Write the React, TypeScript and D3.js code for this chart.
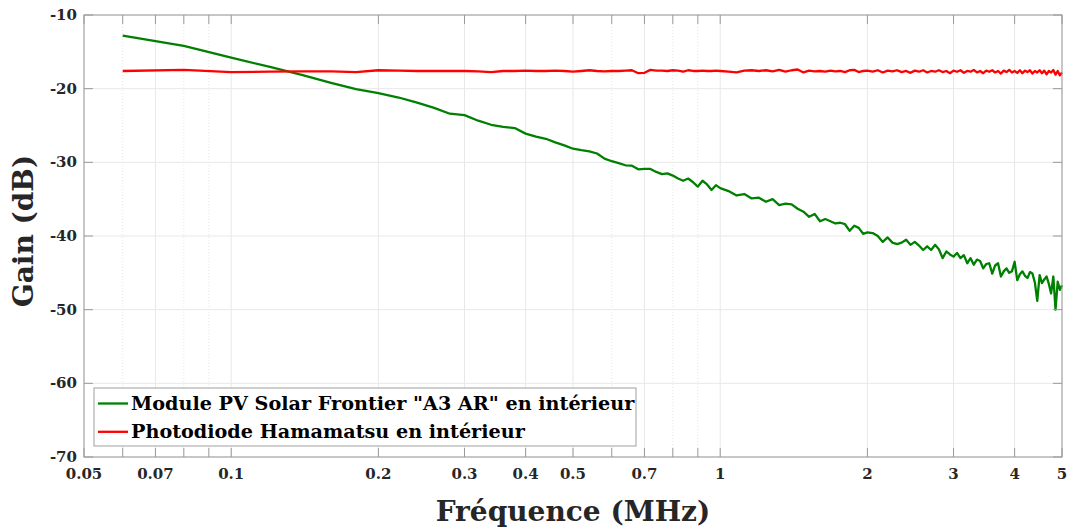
import React from 'react';
import * as d3 from 'd3';

// frequency points (MHz)
const freq: number[] = [
  0.06, 0.08, 0.1, 0.12, 0.14, 0.16, 0.18, 0.2, 0.22, 0.24, 0.26, 0.28, 0.3, 0.32, 0.34, 0.36,
  0.38, 0.4, 0.42, 0.44, 0.46, 0.48, 0.5, 0.52, 0.54, 0.56, 0.58, 0.6, 0.62, 0.64, 0.66, 0.68,
  0.7, 0.72, 0.74, 0.76, 0.78, 0.8, 0.82, 0.84, 0.86, 0.88, 0.9, 0.92, 0.94, 0.96, 0.98, 1.0,
  1.04, 1.08, 1.12, 1.16, 1.2, 1.24, 1.28, 1.32, 1.36, 1.4, 1.44, 1.48, 1.52, 1.56, 1.6, 1.64,
  1.68, 1.72, 1.76, 1.8, 1.84, 1.88, 1.92, 1.96, 2.0,
  2.05, 2.1, 2.15, 2.2, 2.25, 2.3, 2.35, 2.4, 2.45, 2.5,
  2.55, 2.6, 2.65, 2.7, 2.75, 2.8, 2.85, 2.9, 2.95, 3.0,
  3.05, 3.1, 3.15, 3.2, 3.25, 3.3, 3.35, 3.4, 3.45, 3.5,
  3.55, 3.6, 3.65, 3.7, 3.75, 3.8, 3.85, 3.9, 3.95, 4.0,
  4.05, 4.1, 4.15, 4.2, 4.25, 4.3, 4.35, 4.4, 4.45, 4.5,
  4.55, 4.6, 4.65, 4.7, 4.75, 4.8, 4.85, 4.9, 4.95, 5.0,
];

// Module PV Solar Frontier (dB)
const gainPV: number[] = [
  -12.8, -14.2, -15.8, -17.05, -18.15, -19.2, -20.05, -20.6, -21.2, -21.9, -22.6, -23.4, -23.6, -24.35, -24.9, -25.2,
  -25.35, -26.1, -26.5, -26.8, -27.3, -27.7, -28.15, -28.35, -28.5, -28.8, -29.5, -29.85, -30.1, -30.4, -30.45, -30.95,
  -30.9, -30.9, -31.3, -31.6, -31.5, -31.8, -32.2, -32.5, -32.2, -32.7, -33.3, -32.5, -33.0, -33.75, -33.1, -33.5,
  -33.9, -34.5, -34.3, -34.9, -34.8, -35.35, -35.0, -35.8, -35.6, -35.7, -36.3, -36.7, -37.4, -37.0, -38.0, -37.7,
  -38.0, -38.3, -38.2, -38.4, -39.3, -38.6, -38.9, -39.7, -39.5,
  -39.6, -40.0, -40.8, -40.2, -40.9, -41.1, -40.9, -40.5, -41.2, -40.8,
  -41.3, -41.9, -41.4, -41.9, -41.2, -41.8, -43.0, -42.1, -42.5, -42.8,
  -42.3, -43.0, -42.6, -43.7, -43.0, -43.9, -43.2, -43.4, -44.4, -43.8,
  -43.7, -45.1, -44.0, -43.7, -45.5, -44.8, -44.4, -45.0, -44.8, -43.5,
  -46.0, -45.2, -44.8, -45.4, -45.7, -44.9, -45.1, -46.3, -48.8, -45.3,
  -46.4, -45.9, -45.5, -46.5, -47.8, -45.5, -50.0, -46.2, -47.3, -46.7,
];

// Photodiode Hamamatsu (dB)
const gainPD: number[] = [
  -17.6, -17.45, -17.75, -17.7, -17.65, -17.65, -17.75, -17.5, -17.55, -17.6, -17.6, -17.6, -17.6, -17.65, -17.75, -17.6,
  -17.6, -17.55, -17.6, -17.6, -17.55, -17.6, -17.7, -17.6, -17.5, -17.6, -17.65, -17.6, -17.6, -17.55, -17.5, -17.9,
  -17.85, -17.45, -17.55, -17.55, -17.6, -17.5, -17.55, -17.7, -17.5, -17.6, -17.6, -17.55, -17.6, -17.6, -17.55, -17.6,
  -17.7, -17.8, -17.55, -17.5, -17.6, -17.5, -17.65, -17.45, -17.7, -17.5, -17.4, -17.8, -17.55, -17.65, -17.6, -17.7,
  -17.55, -17.65, -17.6, -17.75, -17.5, -17.45, -17.75, -17.6, -17.55,
  -17.7, -17.5, -17.8, -17.55, -17.65, -17.5, -17.75, -17.6, -17.85, -17.55,
  -17.7, -17.5, -17.8, -17.6, -17.7, -17.5, -17.75, -17.6, -17.9, -17.55,
  -17.7, -17.5, -17.85, -17.6, -17.7, -17.45, -17.8, -17.6, -17.9, -17.55,
  -17.7, -17.5, -17.8, -17.6, -17.95, -17.55, -17.75, -17.45, -17.8, -17.6,
  -17.85, -17.5, -17.9, -17.55, -17.75, -17.5, -17.95, -17.6, -17.8, -17.5,
  -17.9, -17.55, -18.05, -17.6, -17.8, -17.45, -18.1, -17.6, -18.2, -17.8,
];

const xTicks = [0.05, 0.07, 0.1, 0.2, 0.3, 0.4, 0.5, 0.7, 1, 2, 3, 4, 5];
const xMinor = [0.06, 0.08, 0.09, 0.6, 0.8, 0.9];
const yTicks = [-70, -60, -50, -40, -30, -20, -10];

const series = [
  { name: 'Module PV Solar Frontier "A3 AR" en intérieur', values: gainPV, color: '#008000' },
  { name: 'Photodiode Hamamatsu en intérieur', values: gainPD, color: '#ff0000' },
];

const W = 1078;
const H = 531;
const margin = { top: 15, right: 16, bottom: 74, left: 84 };
const font = '"DejaVu Serif", serif';

export default function App() {
  const x = d3.scaleLog().domain([0.05, 5]).range([margin.left, W - margin.right]);
  const y = d3.scaleLinear().domain([-70, -10]).range([H - margin.bottom, margin.top]);
  const x0 = margin.left;
  const x1 = W - margin.right;
  const y0 = H - margin.bottom;
  const y1 = margin.top;

  const line = d3
    .line<number>()
    .x((_, i) => x(freq[i]))
    .y((d) => y(d));

  const fmt = (v: number) => String(v);

  return (
    <svg
      width={W}
      height={H}
      style={{ position: 'absolute', left: 0, top: 0, background: '#fff' }}
      fontFamily={font}
    >
      {/* minor grid */}
      {xMinor.map((t) => (
        <line key={'mg' + t} x1={x(t)} x2={x(t)} y1={y1} y2={y0} stroke="#e4e4e4" strokeDasharray="1,2" />
      ))}
      {/* major grid */}
      {xTicks.map((t) => (
        <line key={'gx' + t} x1={x(t)} x2={x(t)} y1={y1} y2={y0} stroke="#e8e8e8" />
      ))}
      {yTicks.map((t) => (
        <line key={'gy' + t} x1={x0} x2={x1} y1={y(t)} y2={y(t)} stroke="#e8e8e8" />
      ))}

      {/* series */}
      {series.map((s) => (
        <path key={s.name} d={line(s.values) || ''} fill="none" stroke={s.color} strokeWidth={2.3} strokeLinejoin="round" />
      ))}

      {/* box */}
      <rect x={x0} y={y1} width={x1 - x0} height={y0 - y1} fill="none" stroke="#9a9a9a" strokeWidth={1} />

      {/* ticks */}
      {[...xTicks, ...xMinor].map((t) => (
        <g key={'xt' + t} stroke="#9a9a9a">
          <line x1={x(t)} x2={x(t)} y1={y0} y2={y0 - 9} />
          <line x1={x(t)} x2={x(t)} y1={y1} y2={y1 + 9} />
        </g>
      ))}
      {yTicks.map((t) => (
        <g key={'yt' + t} stroke="#9a9a9a">
          <line x1={x0} x2={x0 + 9} y1={y(t)} y2={y(t)} />
          <line x1={x1} x2={x1 - 9} y1={y(t)} y2={y(t)} />
        </g>
      ))}

      {/* tick labels */}
      {xTicks.map((t) => (
        <text key={'xl' + t} x={x(t)} y={y0 + 22} textAnchor="middle" fontSize={15} fontWeight="bold" fill="#262626">
          {fmt(t)}
        </text>
      ))}
      {yTicks.map((t) => (
        <text key={'yl' + t} x={x0 - 7} y={y(t) + 5} textAnchor="end" fontSize={15} fontWeight="bold" fill="#262626">
          {fmt(t)}
        </text>
      ))}

      {/* axis titles */}
      <text x={(x0 + x1) / 2} y={H - 10} textAnchor="middle" fontSize={28} fontWeight="bold" fill="#262626">
        Fréquence (MHz)
      </text>
      <text
        transform={`translate(33,231) rotate(-90)`}
        textAnchor="middle"
        fontSize={28}
        fontWeight="bold"
        fill="#262626"
      >
        Gain (dB)
      </text>

      {/* legend */}
      <g>
        <rect x={94} y={388} width={542} height={58} fill="#fff" stroke="#a0a0a0" />
        {series.map((s, i) => (
          <g key={'lg' + i}>
            <line x1={98} x2={128} y1={403.5 + i * 28.3} y2={403.5 + i * 28.3} stroke={s.color} strokeWidth={2.3} />
            <text x={131} y={409.5 + i * 28.3} fontSize={19.2} fontWeight="bold" fill="#000">
              {s.name}
            </text>
          </g>
        ))}
      </g>
    </svg>
  );
}
